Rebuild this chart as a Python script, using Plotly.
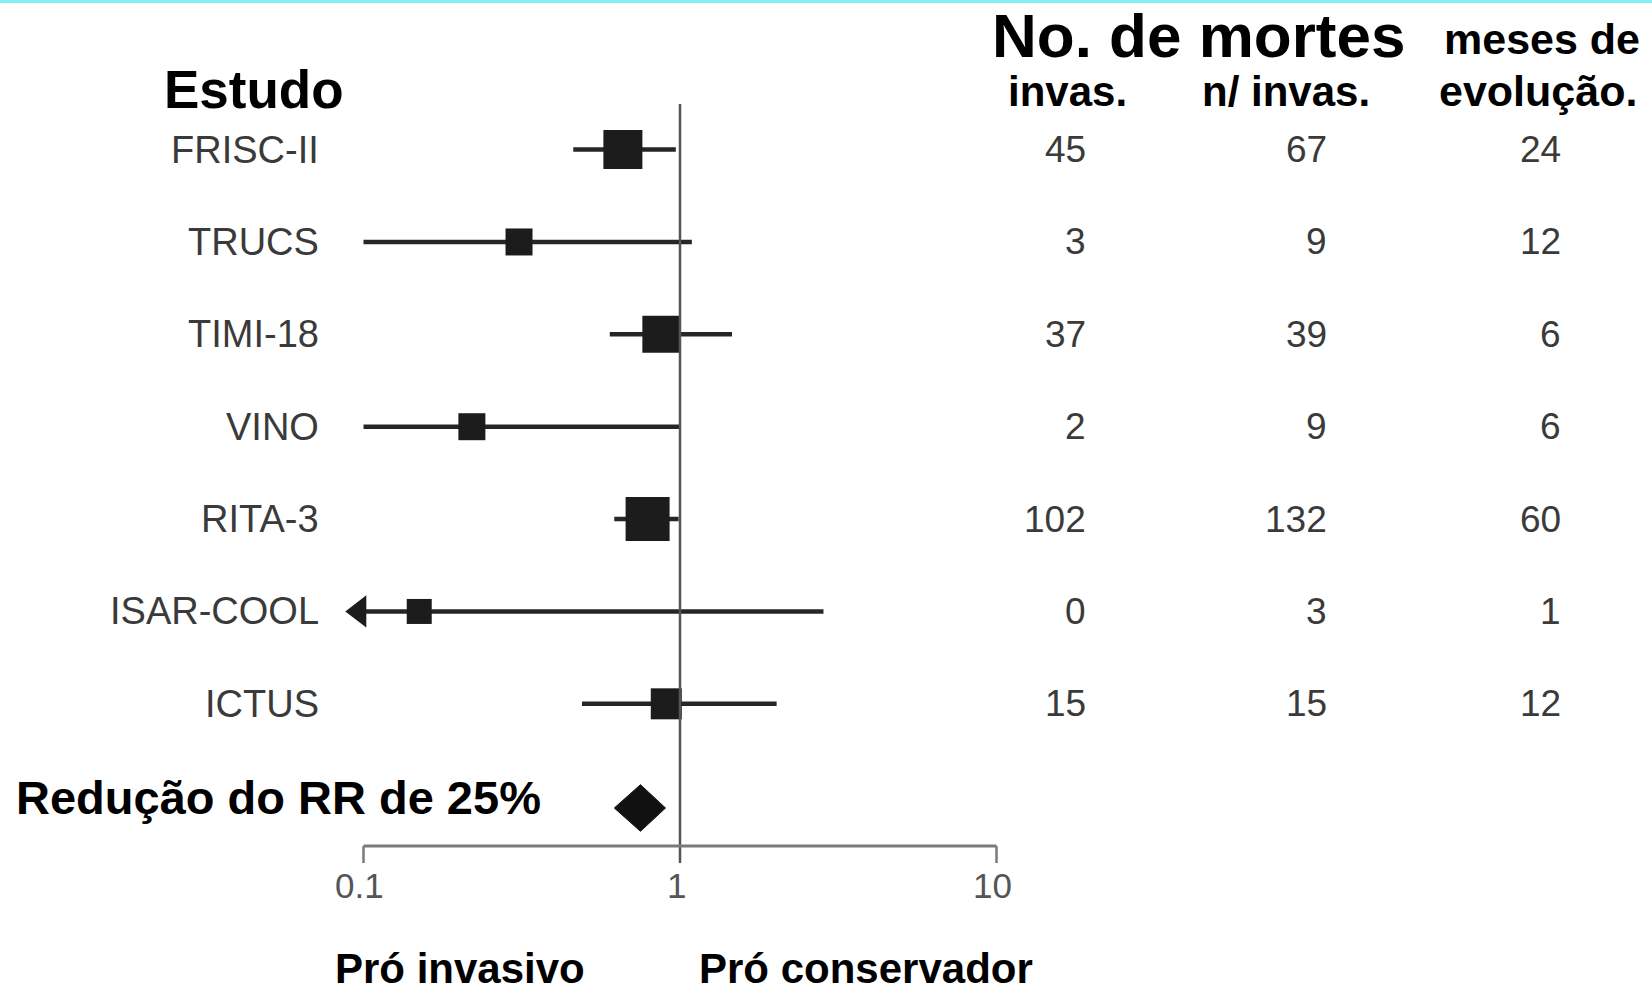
import math
import plotly.graph_objects as go

# ---------------- data ----------------
studies = ["FRISC-II", "TRUCS", "TIMI-18", "VINO", "RITA-3", "ISAR-COOL", "ICTUS"]
rr = [0.66, 0.31, 0.87, 0.22, 0.79, 0.15, 0.905]
ci_low = [0.46, 0.10, 0.60, 0.10, 0.62, 0.097, 0.49]
ci_high = [0.97, 1.09, 1.46, 1.00, 0.99, 2.84, 2.02]
lower_open = [False, False, False, False, False, True, False]   # CI continues below 0.1 (arrow)
deaths_invasive = [45, 3, 37, 2, 102, 0, 15]
deaths_conservative = [67, 9, 39, 9, 132, 3, 15]
months_followup = [24, 12, 6, 6, 60, 1, 12]

pooled_rr = 0.75
pooled_low = 0.62
pooled_high = 0.90
pooled_label = "Redução do RR de 25%"

tick_values = [0.1, 1, 10]
tick_labels = ["0.1", "1", "10"]

# ---------------- styles ----------------
box_px = [39, 27, 37, 27, 44, 25, 31]
W, H = 1652, 992
FONT = "Arial, Liberation Sans, Helvetica, sans-serif"
INK = "#1c1c1c"
GREY_TXT = "#3a3a3a"

row_px0, row_step = 149.6, 92.37          # pixel row layout
def yrow(px):
    return (px - row_px0) / row_step

pooled_row = yrow(808)
axis_row = yrow(846)
tick_end_row = yrow(863)
ref_top_row = yrow(104)
diamond_half = 23.3 / row_step

rows = list(range(len(studies)))

fig = go.Figure()

# confidence intervals
cx, cy = [], []
for i in rows:
    cx += [ci_low[i], ci_high[i], None]
    cy += [i, i, None]
fig.add_trace(go.Scatter(x=cx, y=cy, mode="lines",
                         line=dict(color="#262626", width=4.5),
                         hoverinfo="skip", showlegend=False))

# open lower bound arrows
ax = [ci_low[i] for i in rows if lower_open[i]]
ay = [i for i in rows if lower_open[i]]
fig.add_trace(go.Scatter(x=ax, y=ay, mode="markers",
                         marker=dict(symbol="triangle-left", size=28, color=INK,
                                     opacity=1, line=dict(width=0)),
                         cliponaxis=False, hoverinfo="skip", showlegend=False))

# point estimates
fig.add_trace(go.Scatter(x=rr, y=rows, mode="markers",
                         marker=dict(symbol="square", size=box_px, color=INK,
                                     opacity=1, line=dict(width=0)),
                         cliponaxis=False, text=studies, showlegend=False))

# pooled diamond
fig.add_trace(go.Scatter(
    x=[pooled_low, pooled_rr, pooled_high, pooled_rr, pooled_low],
    y=[pooled_row, pooled_row - diamond_half, pooled_row, pooled_row + diamond_half, pooled_row],
    mode="lines", fill="toself", fillcolor="#111111",
    line=dict(color="#111111", width=1), hoverinfo="skip", showlegend=False))

shapes = [
    # line of no effect
    dict(type="line", xref="x", yref="y", x0=1, x1=1, y0=ref_top_row, y1=tick_end_row,
         line=dict(color="#555555", width=2.5)),
    # axis line
    dict(type="line", xref="x", yref="y", x0=tick_values[0], x1=tick_values[-1],
         y0=axis_row, y1=axis_row, line=dict(color="#7a7a7a", width=3)),
    # top cyan rule
    dict(type="line", xref="paper", yref="paper", x0=0, x1=1, y0=1 - 1.5 / H, y1=1 - 1.5 / H,
         line=dict(color="#86eeee", width=3)),
]
for tv in (tick_values[0], tick_values[-1]):
    shapes.append(dict(type="line", xref="x", yref="y", x0=tv, x1=tv,
                       y0=axis_row, y1=tick_end_row, line=dict(color="#7a7a7a", width=2.5)))

ann = []
def px_x(px):
    return px / W
def px_y(py):
    return 1 - py / H

# study labels and numbers
for i in rows:
    ann.append(dict(x=px_x(321), y=i, xref="paper", yref="y", text=studies[i],
                    xanchor="right", yanchor="middle", showarrow=False,
                    font=dict(family=FONT, size=38, color=GREY_TXT)))
    for val, xr in ((deaths_invasive[i], 1088), (deaths_conservative[i], 1329),
                    (months_followup[i], 1563)):
        ann.append(dict(x=px_x(xr), y=i, xref="paper", yref="y", text=str(val),
                        xanchor="right", yanchor="middle", showarrow=False,
                        font=dict(family=FONT, size=37, color=GREY_TXT)))

# tick labels (annotation x on a log axis is given in log10 units)
for tv, tl in zip(tick_values, tick_labels):
    ann.append(dict(x=math.log10(tv), y=yrow(885.5), xref="x", yref="y", text=tl,
                    xanchor="center", yanchor="middle", showarrow=False, xshift=-4,
                    font=dict(family=FONT, size=35, color="#555555")))

def bold(text, x, y, size, xanchor="center"):
    ann.append(dict(x=px_x(x), y=px_y(y), xref="paper", yref="paper", text=text,
                    xanchor=xanchor, yanchor="middle", showarrow=False,
                    font=dict(family=FONT, size=size, color="#000000", weight="bold")))

bold("Estudo", 254, 89.6, 53)
bold("No. de mortes", 1198, 35, 62)
bold("meses de", 1542, 38.6, 43)
bold("invas.", 1067, 91.5, 42)
bold("n/ invas.", 1286, 91.5, 42)
bold("evolução.", 1538, 91, 43)
bold(pooled_label, 14, 797, 47, xanchor="left")
bold("Pró invasivo", 460, 968, 42)
bold("Pró conservador", 866, 968, 42)

# log axis mapping: 0.1 at 363.5 px, 316.5 px per decade
a = -1 - 363.5 / 316.5
b = a + W / 316.5

fig.update_layout(
    width=W, height=H, margin=dict(l=0, r=0, t=0, b=0),
    paper_bgcolor="white", plot_bgcolor="white",
    xaxis=dict(type="log", range=[a, b], visible=False, domain=[0, 1]),
    yaxis=dict(range=[yrow(H), yrow(0)], visible=False, domain=[0, 1]),
    shapes=shapes, annotations=ann, showlegend=False,
)

fig.write_html("out.html")
